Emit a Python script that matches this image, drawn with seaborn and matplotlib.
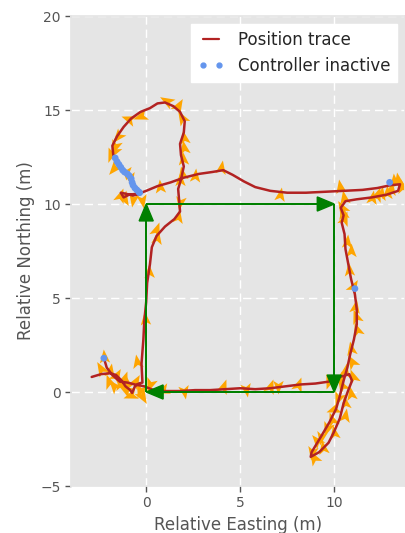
import numpy as np
import pandas as pd
import matplotlib
matplotlib.use("Agg")
import matplotlib.pyplot as plt
from matplotlib.lines import Line2D
from matplotlib.path import Path
import seaborn as sns

# Position trace of the vehicle (relative easting / northing, metres)
trace_x = [-2.9, -2.4, -1.9, -1.6, -1.3, -1.1, -0.85, -0.75, -0.6, -0.4, -0.2,
           -0.25, -0.15, -0.1, 0.0, 0.05, 0.2, 0.3, 0.55, 1.0, 1.5, 1.8, 1.75, 1.7,
           1.85, 2.0, 1.85, 1.8, 2.0, 2.05, 1.8, 1.45, 1.0, 0.6, 0.2, -0.3, -0.8,
           -1.2, -1.55, -1.8, -1.75, -1.6, -1.4, -1.2, -0.95, -0.8, -0.72, -0.6,
           -0.4, -0.3, -0.7, -1.1, -1.35, -1.2, -0.9, -0.4, 0.0, 0.6, 1.3, 2.0,
           2.8, 3.5, 4.1, 4.6, 5.2, 5.8, 6.6, 7.5, 8.5, 9.5, 10.5, 11.5, 12.3,
           13.0, 13.5, 13.4, 12.8, 12.0, 11.2, 10.6, 10.35, 10.5, 10.4, 10.55,
           10.6, 10.75, 10.9, 11.1, 11.2, 11.2, 11.05, 10.85, 10.7, 10.5, 10.3,
           10.1, 9.75, 9.4, 9.1, 8.8, 8.75, 9.2, 9.7, 10.0, 10.3, 10.5, 10.75,
           10.95, 10.8, 10.3, 9.7, 9.0, 8.2, 7.4, 6.6, 5.8, 5.0, 4.2, 3.4, 2.6,
           1.8, 1.0, 0.4, -0.1, -0.6, -1.0, -1.4, -1.8, -2.1, -2.25]
trace_y = [0.8, 0.95, 1.0, 0.9, 0.6, 0.3, 0.1, -0.05, 0.3, 0.45, 0.5,
           1.5, 2.8, 3.8, 4.8, 5.8, 6.8, 7.7, 8.3, 8.8, 9.2, 9.6, 10.2, 10.8,
           11.3, 12.0, 12.6, 13.2, 13.8, 14.4, 14.9, 15.2, 15.4, 15.35, 15.1, 14.9,
           14.55, 14.1, 13.6, 13.1, 12.6, 12.35, 12.05, 11.75, 11.55, 11.35, 11.05,
           10.85, 10.65, 10.55, 10.45, 10.55, 10.6, 10.35, 10.5, 10.55, 10.7,
           10.95, 11.15, 11.4, 11.6, 11.7, 11.8, 11.55, 11.2, 10.9, 10.7, 10.6,
           10.6, 10.65, 10.7, 10.75, 10.85, 11.0, 11.05, 10.7, 10.5, 10.35, 10.25,
           10.15, 9.8, 9.4, 9.0, 8.4, 7.6, 6.8, 6.0, 5.2, 4.4, 3.6, 2.8, 2.0, 1.3,
           0.6, -0.2, -0.9, -1.6, -2.2, -2.7, -3.2, -3.45, -3.2, -2.7, -2.1, -1.4,
           -0.6, 0.1, 0.6, 0.95, 0.8, 0.55, 0.45, 0.4, 0.3, 0.2, 0.15, 0.2, 0.15,
           0.1, 0.1, 0.05, 0.05, 0.1, 0.3, 0.4, 0.5, 0.55, 0.9, 1.3, 1.8]

# Samples logged while the controller was inactive
inactive_x = [-1.65, -1.55, -1.45, -1.35, -1.25, -1.15, -1.0, -0.9, -0.8, -0.75,
              -0.7, -0.6, -0.5, -0.4, -0.35, 12.95, 11.1, -2.25]
inactive_y = [12.45, 12.25, 12.1, 11.95, 11.8, 11.7, 11.6, 11.5, 11.35, 11.15,
              11.0, 10.85, 10.75, 10.65, 10.6, 11.15, 5.5, 1.8]

# Heading samples along the trace (position and heading in degrees)
head_x = [-2.25, -2.4, -1.9, -1.6, -1.4, -1.1, -0.8, -0.6, -0.35, -0.5, -1.2, -2.0,
          -1.7, -0.95, -0.2,
          -0.05, 0.15, 0.6, 1.7, 1.8, 1.95, 2.0, 1.9, 1.1, -0.3, -1.65, -1.7, -1.7,
          -1.05, -0.85, -1.2, -0.7, -0.2, 0.75, 1.9, 2.6, 4.0, 7.1, 10.3, 10.5, 10.4,
          10.5, 12.0, 12.8, 13.2, 13.6, 12.5, 10.9, 11.0, 11.1, 11.2, 10.9, 10.6,
          11.0, 10.4, 10.6, 10.0, 10.6, 9.6, 10.0, 9.1, 8.8, 9.4, 9.7, 8.1, 7.0,
          6.6, 5.3, 4.1, 2.0, 0.9, 0.2,
          2.0, 1.7, -0.9, -1.5, -1.85, -1.4, 1.8, 0.5,
          10.45, 10.7, 10.8, 11.15, 10.95, 13.0, 13.4, 12.3, 10.2, 9.9,
          9.3, 8.9, 10.3, 10.9]
head_y = [1.85, 1.2, 1.1, 0.85, 0.4, 0.1, -0.15, 0.55, 0.1, 1.6, 0.7, 0.55,
          0.3, 0.45, -0.2,
          3.9, 6.4, 8.2, 9.3, 11.3, 12.4, 13.5, 14.6, 15.5, 14.7, 13.1, 12.8, 11.9,
          11.7, 11.4, 10.3, 10.25, 10.2, 10.9, 11.6, 11.5, 11.9, 10.5, 10.9, 10.3,
          9.8, 9.2, 10.3, 10.6, 11.2, 10.9, 10.55, 7.5, 5.6, 4.5, 3.3, 2.3, 1.1,
          0.8, 0.3, -0.6, -0.9, -1.3, -1.9, -2.2, -2.6, -3.2, -3.0, 0.6, 0.35, 0.3,
          0.25, 0.15, 0.25, 0.05, 0.1, 0.4,
          13.0, 15.2, 14.5, 13.6, 12.6, 10.45, 10.1, 8.6,
          9.5, 8.0, 6.5, 4.0, 1.6, 10.8, 11.3, 10.5, -0.3, -1.5,
          -2.4, -3.5, 0.7, -0.1]
head_deg = [95, 120, 80, 60, 100, 150, 200, 60, 250, 100, 70, 110,
            130, 240, 300,
            95, 92, 80, 80, 90, 95, 100, 120, 150, 200, 250, 240, 230,
            270, 280, 300, 260, 280, 95, 100, 85, 80, 80, 100, 100,
            120, 70, 80, 90, 95, 100, 80, 90, 60, 80, 110, 100, 80,
            110, 120, 100, 200, 80, 250, 100, 130, 260, 100, 250, 70, 270,
            70, 280, 70, 280, 200, 250,
            100, 60, 160, 230, 110, 70, 260, 70,
            100, 85, 95, 110, 120, 80, 100, 70, 250, 110,
            260, 120, 80, 100]

# Reference square path (waypoints visited in order)
square_x = [0, 0, 10, 10, 0]
square_y = [0, 10, 10, 0, 0]

sns.set_theme(style="darkgrid", rc={
    "axes.facecolor": "#E5E5E5",
    "grid.color": "white",
    "grid.linestyle": (0, (6, 3.5)),
    "grid.linewidth": 1.0,
    "axes.edgecolor": "#E5E5E5",
    "axes.labelcolor": "#555555",
    "xtick.color": "#555555",
    "ytick.color": "#555555",
    "xtick.bottom": True,
    "ytick.left": True,
    "xtick.major.size": 4,
    "ytick.major.size": 4,
    "xtick.direction": "out",
    "ytick.direction": "out",
})
plt.rcParams["font.family"] = ["DejaVu Sans"]

fig = plt.figure(figsize=(4.05, 5.33), dpi=100)
ax = fig.add_axes([71 / 405, 47 / 533, 334 / 405, 470 / 533])


def heading_marker(deg):
    """Notched arrowhead pointing along the given heading."""
    base = np.array([[1.0, 0.0], [-0.7, 0.65], [-0.3, 0.0], [-0.7, -0.65],
                     [1.0, 0.0]])
    t = np.deg2rad(deg)
    rot = np.array([[np.cos(t), -np.sin(t)], [np.sin(t), np.cos(t)]])
    verts = base @ rot.T
    codes = [Path.MOVETO, Path.LINETO, Path.LINETO, Path.LINETO,
             Path.CLOSEPOLY]
    return Path(verts, codes)


# Heading arrows
for hx, hy, hdeg in zip(head_x, head_y, head_deg):
    ax.plot(hx, hy, linestyle="none", marker=heading_marker(hdeg),
            markersize=11.5, color="#FFA500", markeredgewidth=0, zorder=2)

# Position trace
df = pd.DataFrame({"x": trace_x, "y": trace_y})
sns.lineplot(data=df, x="x", y="y", sort=False, estimator=None,
             color="#B22222", linewidth=1.8, ax=ax, zorder=3)

# Controller-inactive samples
di = pd.DataFrame({"x": inactive_x, "y": inactive_y})
sns.scatterplot(data=di, x="x", y="y", color="#6495ED", s=24,
                edgecolor="none", ax=ax, zorder=4)

# Reference square with direction arrows
for i in range(len(square_x) - 1):
    x0, y0 = square_x[i], square_y[i]
    dx, dy = square_x[i + 1] - x0, square_y[i + 1] - y0
    ax.arrow(x0, y0, dx, dy, length_includes_head=True,
             head_width=0.75, head_length=0.9, width=0.0,
             color="green", linewidth=1.0, zorder=5)

ax.set_xlim(-4, -4 + 334 / 18.8)
ax.set_ylim(-5, 20)
ax.set_xticks([0, 5, 10])
ax.set_yticks([-5, 0, 5, 10, 15, 20])
ax.tick_params(labelsize=10, width=1, length=4)
ax.set_xlabel("Relative Easting (m)", fontsize=12)
ax.set_ylabel("Relative Northing (m)", fontsize=12)

handles = [Line2D([], [], color="#B22222", linewidth=1.6),
           Line2D([], [], color="#6495ED", marker="o", markersize=3.5,
                  linestyle="none")]
leg = ax.legend(handles, ["Position trace", "Controller inactive"],
                loc="upper right", fontsize=12, numpoints=2,
                handlelength=1.6, frameon=True, fancybox=False)
leg.get_frame().set_facecolor("white")
leg.get_frame().set_edgecolor("white")
leg.get_frame().set_alpha(1.0)

fig.savefig("out.png", dpi=100)
